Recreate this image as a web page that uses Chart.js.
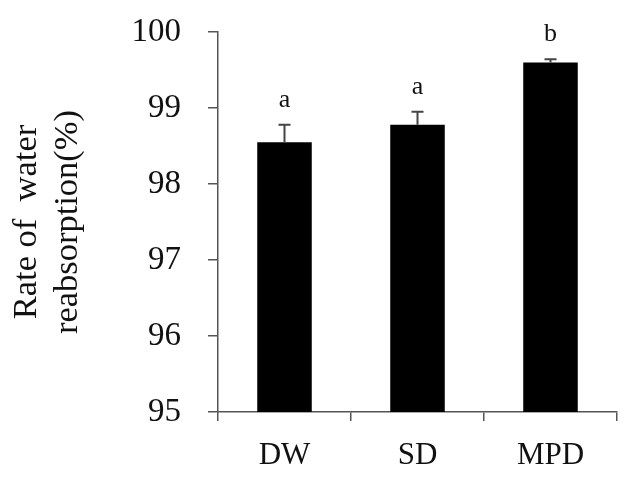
<!DOCTYPE html>
<html>
<head>
<meta charset="utf-8">
<script src="https://cdn.jsdelivr.net/npm/chart.js@4"></script>
<style>
  body { margin: 0; background: #fff; }
  #wrap { width: 633px; height: 478px; }
</style>
</head>
<body>
<div id="wrap"><canvas id="c" width="633" height="478"></canvas></div>
<script>
// datos
const categories = ['DW', 'SD', 'MPD'];
const rateValues = [98.55, 98.78, 99.60];
const rateErrors = [0.23, 0.17, 0.04];
const groupLetters = ['a', 'a', 'b'];
const yTicks = [95, 96, 97, 98, 99, 100];

const FONT = "'Liberation Serif', 'Times New Roman', serif";
const AXIS_COLOR = '#555';

// barras de error (solo hacia arriba) + letras
const errorBarPlugin = {
    id: 'errorBars',
    afterDatasetsDraw(chart) {
        const ctx = chart.ctx;
        const meta = chart.getDatasetMeta(0);
        const y = chart.scales.y;
        ctx.save();
        meta.data.forEach((bar, i) => {
            const top = y.getPixelForValue(rateValues[i] + rateErrors[i]);
            const base = y.getPixelForValue(rateValues[i]);
            ctx.strokeStyle = '#444';
            ctx.lineWidth = 2;
            ctx.beginPath();
            ctx.moveTo(bar.x, base);
            ctx.lineTo(bar.x, top);
            ctx.moveTo(bar.x - 6, top);
            ctx.lineTo(bar.x + 6, top);
            ctx.stroke();
            // letra de significancia
            ctx.fillStyle = '#111';
            ctx.font = `26px ${FONT}`;
            ctx.textAlign = 'center';
            ctx.textBaseline = 'alphabetic';
            ctx.fillText(groupLetters[i], bar.x, top - 18);
        });
        ctx.restore();
    }
};

new Chart(document.getElementById('c'), {
    type: 'bar',
    data: {
        labels: categories,
        datasets: [{
            data: rateValues,
            backgroundColor: '#000',
            borderWidth: 0,
            barPercentage: 0.41,
            categoryPercentage: 1
        }]
    },
    options: {
        responsive: false,
        animation: false,
        layout: { padding: { left: 6, right: 16, top: 32, bottom: 0 } },
        plugins: { legend: { display: false }, tooltip: { enabled: false } },
        scales: {
            x: {
                afterFit: (scale) => { scale.height = 66; },
                grid: { offset: true, drawOnChartArea: false, drawTicks: true, tickLength: 9, color: AXIS_COLOR, lineWidth: 1.5 },
                border: { color: AXIS_COLOR, width: 1.5 },
                ticks: { color: '#111', padding: 16, font: { family: FONT, size: 31 } }
            },
            y: {
                min: 95,
                max: 100,
                afterBuildTicks: (scale) => { scale.ticks = yTicks.map(v => ({ value: v })); },
                afterFit: (scale) => {
                    scale.width = 212;
                    scale.paddingTop = 0;
                    scale.paddingBottom = 0;
                },
                grid: { drawOnChartArea: false, drawTicks: true, tickLength: 10, color: AXIS_COLOR, lineWidth: 1.5 },
                border: { color: AXIS_COLOR, width: 1.5 },
                ticks: { color: '#111', padding: 27, font: { family: FONT, size: 33 } },
                title: {
                    display: true,
                    text: ['Rate of  water', 'reabsorption(%)'],
                    color: '#111',
                    padding: 0,
                    font: { family: FONT, size: 34.5, lineHeight: 1.2 }
                }
            }
        }
    },
    plugins: [errorBarPlugin]
});
</script>
</body>
</html>
